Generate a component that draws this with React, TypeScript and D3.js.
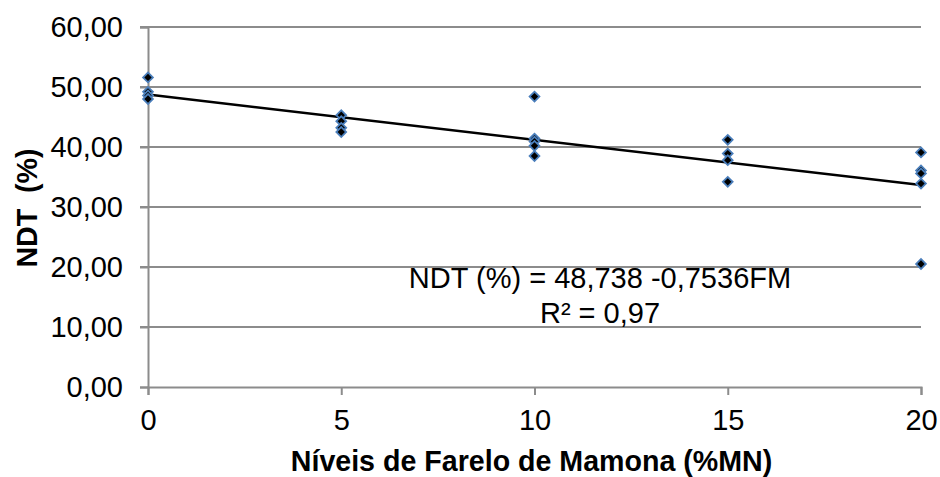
import { useEffect, useRef } from "react";
import * as d3 from "d3";

// levels of castor meal (%MN) and the measured NDT (%) per level
const levels = [0, 5, 10, 15, 20];
const ndt0 = [51.6, 49.2, 48.6, 48.0];
const ndt5 = [45.3, 44.3, 43.2, 42.5];
const ndt10 = [48.4, 41.4, 40.9, 40.2, 38.5];
const ndt15 = [41.2, 38.9, 37.8, 34.2];
const ndt20 = [39.1, 36.1, 35.6, 33.9, 20.5];
const yTicks = [0, 10, 20, 30, 40, 50, 60];
const intercept = 48.738;
const slope = -0.7536;
const equationText = "NDT (%) = 48,738 -0,7536FM";
const r2Text = "R² = 0,97";

const App = () => {
  const ref = useRef<SVGSVGElement | null>(null);

  useEffect(() => {
    document.body.style.margin = "0";
    const font = "Liberation Sans, Arial, sans-serif";
    const grey = "#8c8c8c";

    const svg = d3.select(ref.current);
    svg.selectAll("*").remove();

    const x = d3.scaleLinear().domain([0, 20]).range([148, 921]);
    const y = d3.scaleLinear().domain([0, 60]).range([387, 27]);

    const groups = [ndt0, ndt5, ndt10, ndt15, ndt20];
    const points = groups.flatMap((vals, i) =>
      vals.map((v) => ({ x: levels[i], y: v }))
    );

    // horizontal gridlines
    svg
      .append("g")
      .selectAll("line")
      .data(yTicks.filter((t) => t > 0))
      .join("line")
      .attr("x1", x(0) - 8)
      .attr("x2", x(20))
      .attr("y1", (d) => y(d))
      .attr("y2", (d) => y(d))
      .attr("stroke", grey)
      .attr("stroke-width", 2);

    // y axis
    const yAxis = svg
      .append("g")
      .attr("transform", `translate(${x(0)},0)`)
      .call(
        d3
          .axisLeft(y)
          .tickValues(yTicks)
          .tickSize(8)
          .tickPadding(17)
          .tickFormat((d) => d3.format(".2f")(d as number).replace(".", ","))
      );
    yAxis.select(".domain").attr("stroke", grey).attr("stroke-width", 2);
    yAxis.selectAll(".tick line").attr("stroke", grey).attr("stroke-width", 2);
    yAxis
      .selectAll("text")
      .attr("font-family", font)
      .attr("font-size", 29)
      .attr("fill", "#000");

    // x axis
    const xAxis = svg
      .append("g")
      .attr("transform", `translate(0,${y(0)})`)
      .call(d3.axisBottom(x).tickValues(levels).tickSize(8).tickPadding(14));
    xAxis.select(".domain").attr("stroke", grey).attr("stroke-width", 2);
    xAxis.selectAll(".tick line").attr("stroke", grey).attr("stroke-width", 2);
    xAxis
      .selectAll("text")
      .attr("font-family", font)
      .attr("font-size", 29)
      .attr("fill", "#000");

    // trendline
    const line = d3
      .line<number>()
      .x((d) => x(d))
      .y((d) => y(intercept + slope * d));
    svg
      .append("path")
      .datum([0, 20])
      .attr("fill", "none")
      .attr("stroke", "#000")
      .attr("stroke-width", 2.5)
      .attr("d", line);

    // markers
    const diamond = d3.symbol().type(d3.symbolSquare).size(48);
    svg
      .append("g")
      .selectAll("path")
      .data(points)
      .join("path")
      .attr("d", diamond)
      .attr("transform", (d) => `translate(${x(d.x)},${y(d.y)}) rotate(45)`)
      .attr("fill", "#000")
      .attr("stroke", "#4a7ebb")
      .attr("stroke-width", 1.8);

    // equation
    svg
      .append("text")
      .attr("x", 600)
      .attr("y", 288)
      .attr("text-anchor", "middle")
      .attr("font-family", font)
      .attr("font-size", 29)
      .text(equationText);
    svg
      .append("text")
      .attr("x", 600)
      .attr("y", 323)
      .attr("text-anchor", "middle")
      .attr("font-family", font)
      .attr("font-size", 29)
      .text(r2Text);

    // axis titles
    svg
      .append("text")
      .attr("x", (x(0) + x(20)) / 2 - 3)
      .attr("y", 471)
      .attr("text-anchor", "middle")
      .attr("font-family", font)
      .attr("font-weight", "bold")
      .attr("font-size", 28.6)
      .text("Níveis de Farelo de Mamona (%MN)");
    svg
      .append("text")
      .attr("transform", `translate(37,208) rotate(-90)`)
      .attr("text-anchor", "middle")
      .attr("font-family", font)
      .attr("font-weight", "bold")
      .attr("font-size", 28.6)
      .style("white-space", "pre")
      .text("NDT  (%)");
  }, []);

  return <svg ref={ref} width={940} height={477} style={{ display: "block" }}></svg>;
};

export default App;
